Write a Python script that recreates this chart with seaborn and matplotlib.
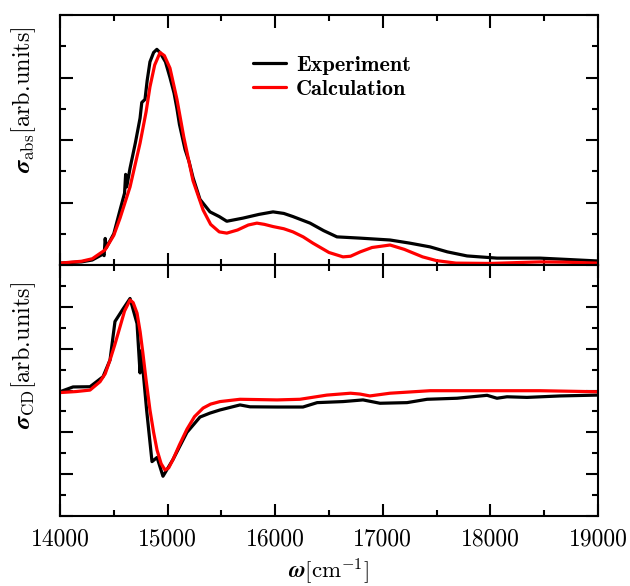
import numpy as np
import pandas as pd
import matplotlib
matplotlib.use("Agg")
import matplotlib.pyplot as plt
import seaborn as sns
from matplotlib.ticker import MultipleLocator

# ---------------- data ----------------
abs_exp_x = [14000, 14200, 14300, 14400, 14410, 14420, 14430, 14500, 14558, 14600, 14610, 14620,
             14651, 14700, 14744, 14760, 14790, 14810, 14836, 14870, 14900, 14929, 14980, 15022,
             15060, 15087, 15110, 15162, 15200, 15236, 15301, 15394, 15480, 15550, 15700, 15850,
             15980, 16080, 16165, 16324, 16450, 16574, 16788, 17067, 17250, 17439, 17600, 17783,
             18061, 18461, 18700, 18991]
abs_exp_y = [0.06, 0.10, 0.16, 0.35, 0.30, 0.85, 0.55, 1.00, 1.76, 2.30, 2.90, 2.50,
             3.10, 3.90, 4.70, 5.20, 5.30, 5.90, 6.50, 6.80, 6.90, 6.80, 6.50, 6.00,
             5.50, 5.00, 4.50, 3.70, 3.30, 2.80, 2.10, 1.70, 1.55, 1.40, 1.50, 1.62,
             1.70, 1.65, 1.55, 1.34, 1.10, 0.90, 0.86, 0.80, 0.70, 0.58, 0.42, 0.29,
             0.22, 0.22, 0.18, 0.13]

abs_calc_x = [14000, 14200, 14300, 14418, 14500, 14558, 14651, 14744, 14800, 14836, 14880, 14930,
              14970, 15022, 15087, 15150, 15236, 15330, 15400, 15480, 15550, 15650, 15750, 15830,
              15900, 15980, 16080, 16165, 16260, 16350, 16500, 16630, 16700, 16790, 16900, 17067,
              17200, 17370, 17500, 17680, 18000, 18460, 18700, 19000]
abs_calc_y = [0.06, 0.12, 0.20, 0.48, 0.95, 1.50, 2.50, 3.90, 4.90, 5.70, 6.40, 6.80,
              6.70, 6.30, 5.30, 4.10, 2.70, 1.76, 1.30, 1.06, 1.02, 1.12, 1.28, 1.34,
              1.30, 1.23, 1.16, 1.06, 0.90, 0.70, 0.40, 0.26, 0.28, 0.42, 0.56, 0.64,
              0.50, 0.26, 0.14, 0.06, 0.05, 0.10, 0.09, 0.06]

cd_exp_x = [14000, 14121, 14279, 14400, 14465, 14511, 14586, 14651, 14716, 14744, 14755, 14805,
            14855, 14902, 14957, 15050, 15180, 15301, 15394, 15487, 15673, 15766, 16017, 16258,
            16390, 16630, 16816, 16974, 17225, 17411, 17690, 17969, 18061, 18154, 18340, 18647,
            18991]
cd_exp_y = [-0.06, 0.17, 0.18, 0.66, 1.46, 3.30, 3.90, 4.40, 3.20, 0.84, 1.90, -0.93,
            -3.40, -3.20, -4.10, -3.30, -2.00, -1.27, -1.08, -0.93, -0.69, -0.78, -0.79, -0.79,
            -0.58, -0.53, -0.45, -0.61, -0.58, -0.42, -0.37, -0.23, -0.37, -0.30, -0.33, -0.26,
            -0.22]

cd_calc_x = [14000, 14150, 14279, 14372, 14420, 14465, 14510, 14558, 14600, 14651, 14680, 14716,
             14745, 14770, 14800, 14836, 14870, 14902, 14940, 14976, 15010, 15050, 15110, 15180,
             15250, 15330, 15400, 15487, 15673, 16017, 16230, 16480, 16700, 16788, 16880, 17067,
             17440, 18460, 19000]
cd_calc_y = [-0.10, -0.05, 0.02, 0.42, 0.80, 1.46, 2.20, 3.05, 3.80, 4.33, 4.20, 3.70,
             2.80, 1.80, 0.50, -0.93, -2.00, -2.85, -3.50, -3.80, -3.70, -3.30, -2.60, -1.85,
             -1.25, -0.84, -0.65, -0.53, -0.42, -0.45, -0.42, -0.22, -0.13, -0.17, -0.26, -0.13,
             -0.01, -0.01, -0.06]

series_names = ["Experiment", "Calculation"]
series_colors = ["black", "#ff0000"]
x_ticks = [14000, 15000, 16000, 17000, 18000, 19000]

# ---------------- style ----------------
sns.set_theme(style="ticks")
plt.rcParams.update({
    "font.family": ["cmr10", "DejaVu Serif"],
    "mathtext.fontset": "cm",
    "axes.formatter.use_mathtext": True,
    "axes.linewidth": 1.5,
    "axes.edgecolor": "black",
    "xtick.color": "black",
    "ytick.color": "black",
    "text.color": "black",
    "axes.labelcolor": "black",
    "xtick.direction": "in",
    "ytick.direction": "in",
    "xtick.top": True,
    "ytick.right": True,
})

fig = plt.figure(figsize=(6.3, 5.86), dpi=100)
ax1 = fig.add_axes([60 / 630, 1 - 265 / 586, 538 / 630, 250 / 586])
ax2 = fig.add_axes([60 / 630, 1 - 516 / 586, 538 / 630, 251 / 586], sharex=ax1)

df_abs = pd.concat([
    pd.DataFrame({"x": abs_exp_x, "y": abs_exp_y, "s": series_names[0]}),
    pd.DataFrame({"x": abs_calc_x, "y": abs_calc_y, "s": series_names[1]}),
])
df_cd = pd.concat([
    pd.DataFrame({"x": cd_exp_x, "y": cd_exp_y, "s": series_names[0]}),
    pd.DataFrame({"x": cd_calc_x, "y": cd_calc_y, "s": series_names[1]}),
])
pal = dict(zip(series_names, series_colors))

sns.lineplot(data=df_abs, x="x", y="y", hue="s", palette=pal, sort=False,
             estimator=None, lw=2.3, ax=ax1, legend=True)
sns.lineplot(data=df_cd, x="x", y="y", hue="s", palette=pal, sort=False,
             estimator=None, lw=2.3, ax=ax2, legend=False)

ax1.set_xlim(14000, 19000)
ax1.set_ylim(0, 8)
ax2.set_ylim(-6, 6)

for ax in (ax1, ax2):
    for sp in ax.spines.values():
        sp.set_color("black")
        sp.set_linewidth(1.5)
    ax.xaxis.set_major_locator(MultipleLocator(1000))
    ax.xaxis.set_minor_locator(MultipleLocator(500))
    ax.yaxis.set_major_locator(MultipleLocator(2))
    ax.yaxis.set_minor_locator(MultipleLocator(1))
    ax.tick_params(which="major", length=9, width=1.5, direction="in", color="black",
                   top=True, right=True, labelsize=17, pad=9, labelcolor="black")
    ax.tick_params(which="minor", length=4.5, width=1.5, direction="in", color="black",
                   top=True, right=True)
    ax.tick_params(axis="y", labelleft=False)
    ax.set_xlabel("")
    ax.set_ylabel("")

ax1.tick_params(axis="x", labelbottom=False)
ax2.set_xticks(x_ticks)
ax2.set_xticklabels([str(t) for t in x_ticks])

ax1.set_ylabel(r"$\boldsymbol{\sigma}_{\rm abs}$[arb.units]", fontsize=17.5)
ax2.set_ylabel(r"$\boldsymbol{\sigma}_{\rm CD}$[arb.units]", fontsize=17.5)
ax1.yaxis.set_label_coords(-0.04, 0.66)
ax2.yaxis.set_label_coords(-0.04, 0.64)
ax2.set_xlabel(r"$\boldsymbol{\omega}$[cm$^{-1}$]", fontsize=16.5)
ax2.xaxis.set_label_coords(0.5, -0.165)

leg = ax1.legend(loc="upper left", bbox_to_anchor=(0.342, 0.875), frameon=False,
                 prop={"family": "cmb10", "size": 16}, handlelength=1.5,
                 handletextpad=0.45, labelspacing=0.2, borderaxespad=0)
for line in leg.get_lines():
    line.set_linewidth(2.3)

fig.savefig("out.png", dpi=100)
